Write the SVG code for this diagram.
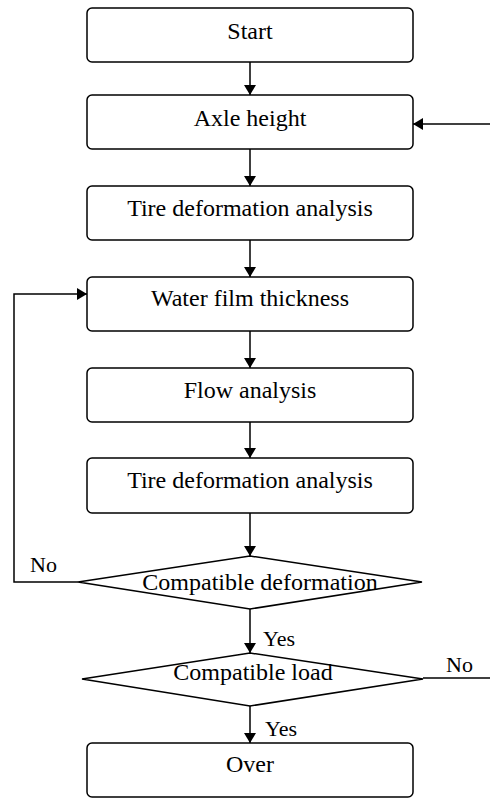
<svg xmlns="http://www.w3.org/2000/svg" width="490" height="798" viewBox="0 0 490 798">
<defs>
<style>
.box{fill:#fff;stroke:#000;stroke-width:1.5}
.t{font-family:"Liberation Serif","Times New Roman",serif;font-size:24px;fill:#000;text-anchor:middle}
.lbl{font-family:"Liberation Serif","Times New Roman",serif;font-size:22px;fill:#000}
.ln{fill:none;stroke:#000;stroke-width:1.5}
</style>
<marker id="ah" markerWidth="10" markerHeight="12" refX="10" refY="6" orient="auto" markerUnits="userSpaceOnUse">
<path d="M0,0 L10,6 L0,12 Z" fill="#000"/>
</marker>
</defs>
<rect width="490" height="798" fill="#fff"/>
<g id="connectors">
<line class="ln" x1="250" y1="62" x2="250" y2="95" marker-end="url(#ah)"/>
<line class="ln" x1="490" y1="124" x2="413" y2="124" marker-end="url(#ah)"/>
<line class="ln" x1="250" y1="149" x2="250" y2="186" marker-end="url(#ah)"/>
<line class="ln" x1="250" y1="240" x2="250" y2="277" marker-end="url(#ah)"/>
<line class="ln" x1="250" y1="331" x2="250" y2="368" marker-end="url(#ah)"/>
<line class="ln" x1="250" y1="422" x2="250" y2="458" marker-end="url(#ah)"/>
<line class="ln" x1="250" y1="513" x2="250" y2="556" marker-end="url(#ah)"/>
<polyline class="ln" points="78,582 14,582 14,294 87,294" marker-end="url(#ah)"/>
<line class="ln" x1="250" y1="609" x2="250" y2="653" marker-end="url(#ah)"/>
<line class="ln" x1="423" y1="678" x2="490" y2="678"/>
<line class="ln" x1="250" y1="706" x2="250" y2="743" marker-end="url(#ah)"/>
<text class="lbl" x="30" y="572">No</text>
<text class="lbl" x="263" y="646">Yes</text>
<text class="lbl" x="446" y="672">No</text>
<text class="lbl" x="265" y="736">Yes</text>
</g>
<g id="start"><rect class="box" x="87" y="8" width="326" height="54" rx="5"/><text class="t" x="250" y="39">Start</text></g>
<g id="axle"><rect class="box" x="87" y="95" width="326" height="54" rx="5"/><text class="t" x="250" y="126">Axle height</text></g>
<g id="tire1"><rect class="box" x="87" y="186" width="326" height="54" rx="5"/><text class="t" x="250" y="216">Tire deformation analysis</text></g>
<g id="water"><rect class="box" x="87" y="277" width="326" height="54" rx="5"/><text class="t" x="250" y="306">Water film thickness</text></g>
<g id="flow"><rect class="box" x="87" y="368" width="326" height="54" rx="5"/><text class="t" x="250" y="398">Flow analysis</text></g>
<g id="tire2"><rect class="box" x="87" y="458" width="326" height="55" rx="5"/><text class="t" x="250" y="488">Tire deformation analysis</text></g>
<g id="compat-def"><polygon class="box" points="250,556 422,582 250,609 78,582"/><text class="t" x="260" y="590">Compatible deformation</text></g>
<g id="compat-load"><polygon class="box" points="250,653 423,679 250,706 82,679"/><text class="t" x="253" y="680">Compatible load</text></g>
<g id="over"><rect class="box" x="87" y="743" width="326" height="54" rx="5"/><text class="t" x="250" y="772">Over</text></g>
</svg>
